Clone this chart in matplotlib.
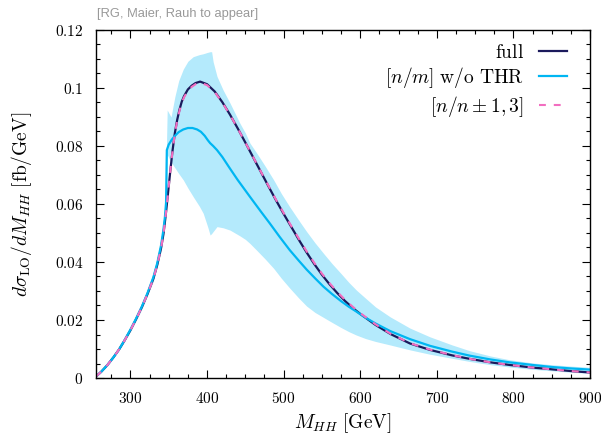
import numpy as np
import matplotlib
matplotlib.use("Agg")
import matplotlib.pyplot as plt
from matplotlib.ticker import MultipleLocator, FuncFormatter

plt.rcParams["mathtext.fontset"] = "cm"
plt.rcParams["font.family"] = "serif"

# full result
m_full = [255, 262, 270, 278, 285, 292, 300, 307, 315, 322, 330, 335, 340, 343, 346, 349,
          352, 355, 358, 361, 364, 367, 370, 375, 380, 385, 391, 400, 410, 420, 430, 440,
          450, 460, 470, 480, 490, 500, 510, 520, 530, 540, 550, 560, 570, 580, 590, 600,
          620, 640, 665, 691, 720, 743, 770, 795, 825, 850, 875, 900]
full = [0.0005, 0.0022, 0.0045, 0.0072, 0.0098, 0.0128, 0.0165, 0.0201, 0.0245, 0.0288,
        0.0343, 0.039, 0.0448, 0.0495, 0.0560, 0.0636, 0.0713, 0.0785, 0.0845, 0.089,
        0.0925, 0.0953, 0.0972, 0.0995, 0.1008, 0.1017, 0.1022, 0.1013, 0.0988, 0.0951,
        0.0908, 0.0861, 0.0812, 0.0762, 0.0712, 0.0662, 0.0613, 0.0566, 0.0521, 0.0476,
        0.0433, 0.0393, 0.0356, 0.0323, 0.0293, 0.0266, 0.0242, 0.0221, 0.0183, 0.0151,
        0.0119, 0.0097, 0.0078, 0.0066, 0.0054, 0.0045, 0.0036, 0.0030, 0.0024, 0.0019]

# [n/n+-1,3] approximants
pade = [0.0005, 0.0022, 0.0045, 0.0072, 0.0098, 0.0128, 0.0165, 0.0201, 0.0245, 0.0288,
        0.0343, 0.039, 0.0448, 0.0495, 0.0560, 0.0636, 0.0713, 0.0784, 0.0843, 0.0887,
        0.0921, 0.0949, 0.0968, 0.0991, 0.1004, 0.1013, 0.1018, 0.1010, 0.0986, 0.0950,
        0.0907, 0.0861, 0.0812, 0.0763, 0.0713, 0.0664, 0.0615, 0.0569, 0.0524, 0.0480,
        0.0437, 0.0397, 0.0360, 0.0327, 0.0297, 0.0270, 0.0246, 0.0224, 0.0185, 0.0152,
        0.0120, 0.0098, 0.0079, 0.0066, 0.0054, 0.0045, 0.0036, 0.0030, 0.0024, 0.0019]

# [n/m] w/o THR
m_thr = [255, 262, 270, 278, 285, 292, 300, 307, 315, 322, 330, 335, 340, 343, 345, 346.5,
         347.5, 350, 354, 358, 363, 369, 375, 381, 387, 392, 397, 401, 404, 408, 413, 420,
         430, 440, 456, 470, 482, 495, 508, 520, 530, 541, 552, 563, 575, 585, 595, 607,
         620, 639, 665, 691, 720, 743, 770, 795, 825, 850, 875, 900]
wo_thr = [0.0005, 0.0022, 0.0045, 0.0072, 0.0098, 0.0129, 0.0167, 0.0203, 0.0247, 0.0291,
          0.0348, 0.0396, 0.0458, 0.0510, 0.0555, 0.0605, 0.0786, 0.0805, 0.0822, 0.0835,
          0.0848, 0.0857, 0.0862, 0.0862, 0.0857, 0.0849, 0.0835, 0.0820, 0.0810, 0.0800,
          0.0786, 0.0762, 0.0722, 0.0683, 0.0625, 0.0575, 0.0533, 0.0486, 0.0441, 0.0404,
          0.0374, 0.0344, 0.0315, 0.0290, 0.0265, 0.0246, 0.0229, 0.0208, 0.0188, 0.0162,
          0.0134, 0.0111, 0.0091, 0.0077, 0.0064, 0.0054, 0.0045, 0.0038, 0.0033, 0.0029]

# uncertainty band of [n/m] w/o THR
m_band = [255, 270, 285, 300, 315, 330, 340, 345, 347, 348, 353, 358, 363, 369, 375, 382,
          390, 395, 401, 404, 406, 408, 413, 421, 430, 443, 450, 456, 465, 476, 487, 497,
          508, 520, 530, 541, 552, 563, 575, 585, 595, 607, 620, 639, 665, 691, 720, 743,
          770, 795, 825, 850, 875, 900]
band_hi = [0.0006, 0.0048, 0.0101, 0.0172, 0.0252, 0.0355, 0.0472, 0.058, 0.080, 0.0924,
           0.090, 0.097, 0.1025, 0.1065, 0.1092, 0.1108, 0.1115, 0.1118, 0.1123, 0.1125,
           0.1125, 0.109, 0.104, 0.0993, 0.0948, 0.0878, 0.0845, 0.081, 0.0775, 0.073,
           0.0683, 0.0636, 0.059, 0.0543, 0.0505, 0.0466, 0.043, 0.0395, 0.036, 0.033,
           0.0303, 0.0275, 0.0245, 0.0211, 0.0172, 0.0142, 0.0114, 0.0094, 0.0076, 0.0063,
           0.0052, 0.0046, 0.0041, 0.0037]
band_lo = [0.0004, 0.0042, 0.0095, 0.0160, 0.0238, 0.0335, 0.0440, 0.053, 0.060, 0.077,
           0.0745, 0.0725, 0.0705, 0.0683, 0.0655, 0.0625, 0.0592, 0.0568, 0.052, 0.0493,
           0.0498, 0.0505, 0.0522, 0.0518, 0.051, 0.049, 0.0478, 0.0464, 0.044, 0.041,
           0.0378, 0.0344, 0.031, 0.0275, 0.0248, 0.0226, 0.0209, 0.0192, 0.0174, 0.016,
           0.0148, 0.0136, 0.0126, 0.0114, 0.0097, 0.0082, 0.0068, 0.0057, 0.0046, 0.0038,
           0.003, 0.0025, 0.002, 0.0016]

fig = plt.figure(figsize=(6.01, 4.37), dpi=100)
ax = fig.add_axes([0.1597, 0.135, 0.8220, 0.7964])

ax.fill_between(m_band, band_lo, band_hi, color="#b4eafc", lw=0)
ax.plot(m_full, full, color="#1b1a5c", lw=1.6, label=r"$\mathrm{full}$")
ax.plot(m_thr, wo_thr, color="#00b6f2", lw=1.6, label=r"$[n/m]\ \mathrm{w/o\ THR}$")
ax.plot(m_full, pade, color="#f26ec0", lw=1.5, ls=(0, (3.3, 3.8)),
        label=r"$[n/n\pm1,3]$")

ax.set_xlim(255, 900)
ax.set_ylim(0, 0.12)
ax.xaxis.set_major_locator(MultipleLocator(100))
ax.xaxis.set_minor_locator(MultipleLocator(25))
ax.yaxis.set_major_locator(MultipleLocator(0.02))
ax.yaxis.set_minor_locator(MultipleLocator(0.005))
ax.xaxis.set_major_formatter(FuncFormatter(lambda v, p: r"$%d$" % v))
ax.yaxis.set_major_formatter(FuncFormatter(lambda v, p: r"$%g$" % round(v, 3)))
ax.tick_params(which="both", direction="in", top=True, right=True, width=0.8)
ax.tick_params(which="major", length=6, labelsize=11)
ax.tick_params(axis="x", which="major", pad=9)
ax.tick_params(axis="y", which="major", pad=9)
ax.tick_params(which="minor", length=3)
for s in ax.spines.values():
    s.set_linewidth(1.0)

ax.set_xlabel(r"$M_{HH}\ [\mathrm{GeV}]$", fontsize=14, labelpad=4)
ax.set_ylabel(r"$d\sigma_{\mathrm{LO}}/dM_{HH}\ [\mathrm{fb/GeV}]$", fontsize=14, labelpad=15)

leg = ax.legend(loc="upper right", frameon=False, markerfirst=False, fontsize=14,
                handlelength=1.45, handletextpad=0.75, labelspacing=0.18,
                borderaxespad=0.3, bbox_to_anchor=(0.981, 1.0))
leg._legend_handle_box.get_children()[0].align = "right"

fig.text(97 / 601, 1 - 14 / 437, "[RG, Maier, Rauh to appear]", color="#999999",
         fontsize=9.3, family="Liberation Sans", va="center", ha="left")

fig.savefig("out.png", dpi=100)
